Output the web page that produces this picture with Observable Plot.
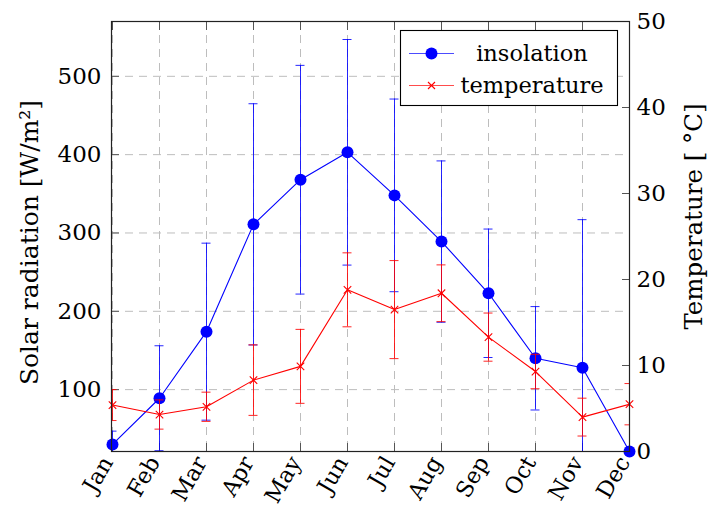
<!DOCTYPE html>
<html><head><meta charset="utf-8">
<script src="https://cdn.jsdelivr.net/npm/d3@7"></script>
<script src="https://cdn.jsdelivr.net/npm/@observablehq/plot@0.6"></script>
<style>
body{margin:0;background:#fff;}
#wrap{position:relative;width:708px;height:507px;}
#wrap svg{display:block;}
</style></head><body><div id="wrap"></div>
<script>
const months = ["Jan","Feb","Mar","Apr","May","Jun","Jul","Aug","Sep","Oct","Nov","Dec"];
const insolation = [30, 89, 174, 311, 368, 403, 348, 289, 223, 140, 128, 21];
const insolationErr = [17, 67, 113, 154, 146, 144, 123, 103, 82, 66, 189, 0];
const temperature = [5.4, 4.3, 5.2, 8.3, 9.9, 18.8, 16.5, 18.4, 13.3, 9.3, 4.0, 5.5];
const temperatureErr = [1.8, 1.7, 1.7, 4.1, 4.3, 4.3, 5.7, 3.3, 2.8, 2.0, 2.2, 2.4];
const leftTicks = [100, 200, 300, 400, 500];
const rightTicks = [0, 10, 20, 30, 40, 50];
const leftDomain = [21, 570];
const rightDomain = [0, 50];
const seriesNames = ["insolation", "temperature"];
const leftTitle = "Solar radiation [W/m²]";
const rightTitle = "Temperature [ °C]";

const k = (leftDomain[1] - leftDomain[0]) / (rightDomain[1] - rightDomain[0]);
const toLeft = t => leftDomain[0] + (t - rightDomain[0]) * k;
const fromLeft = v => rightDomain[0] + (v - leftDomain[0]) / k;

const data = months.map((m, i) => ({
  month: m,
  ins: insolation[i],
  insLo: insolation[i] - insolationErr[i],
  insHi: insolation[i] + insolationErr[i],
  insErr: insolationErr[i],
  tmp: toLeft(temperature[i]),
  tmpLo: toLeft(temperature[i] - temperatureErr[i]),
  tmpHi: toLeft(temperature[i] + temperatureErr[i])
}));
const withErr = data.filter(d => d.insErr > 0);

const FONT = "DejaVu Serif";
const BLUE = "#0000ff", RED = "#ff0000";
const gridStyle = {stroke: "#bdbdbd", strokeOpacity: 1, strokeDasharray: "8,6", strokeWidth: 1};
const cap = (arr, yKey, color) => Plot.ruleY(arr, {x1: "month", x2: "month", y: yKey, stroke: color, strokeOpacity: 0.85, insetLeft: -4.5, insetRight: -4.5, clip: true});

const chart = Plot.plot({
  width: 708, height: 507,
  marginLeft: 111, marginRight: 79, marginTop: 21, marginBottom: 56,
  style: {fontFamily: FONT, fontSize: "23px", background: "#fff", color: "#000", overflow: "visible"},
  x: {type: "point", domain: months, padding: 0, axis: null, label: null},
  y: {domain: leftDomain, axis: null, label: null},
  marks: [
    Plot.gridX(months, gridStyle),
    Plot.gridY(leftTicks, gridStyle),
    // axes: labels
    Plot.axisX(months, {anchor: "bottom", tickSize: 0, tickPadding: 7, dx: -5, tickRotate: -60, fontSize: 22.5}),
    Plot.axisY(leftTicks, {anchor: "left", tickSize: 0, tickPadding: 10, fontSize: 23}),
    Plot.axisY(rightTicks.map(toLeft), {anchor: "right", tickSize: 0, tickPadding: 7, fontSize: 23,
      tickFormat: v => String(Math.round(fromLeft(v)))}),
    // inward ticks
    Plot.axisX(months, {anchor: "bottom", tickSize: -8, tickFormat: () => "", stroke: "#555"}),
    Plot.axisX(months, {anchor: "top", tickSize: -8, tickFormat: () => "", stroke: "#555"}),
    Plot.axisY(leftTicks, {anchor: "left", tickSize: -8, tickFormat: () => "", stroke: "#555"}),
    Plot.axisY(rightTicks.map(toLeft), {anchor: "right", tickSize: -8, tickFormat: () => "", stroke: "#555"}),
    // insolation
    Plot.ruleX(withErr, {x: "month", y1: "insLo", y2: "insHi", stroke: BLUE, strokeOpacity: 0.85, clip: true}),
    cap(withErr, "insHi", BLUE),
    cap(withErr, "insLo", BLUE),
    Plot.line(data, {x: "month", y: "ins", stroke: BLUE, strokeWidth: 1.1, clip: true}),
    Plot.dot(data, {x: "month", y: "ins", r: 6, fill: BLUE}),
    // temperature
    Plot.ruleX(data, {x: "month", y1: "tmpLo", y2: "tmpHi", stroke: RED, strokeOpacity: 0.85, clip: true}),
    cap(data, "tmpHi", RED),
    cap(data, "tmpLo", RED),
    Plot.line(data, {x: "month", y: "tmp", stroke: RED, strokeWidth: 1.1, clip: true}),
    Plot.dot(data, {x: "month", y: "tmp", r: 3.5, symbol: "times", stroke: RED, strokeWidth: 1.1}),
    Plot.frame({stroke: "#222", strokeWidth: 1.2}),
    // axis titles
    Plot.text([leftTitle], {frameAnchor: "left", rotate: -90, dx: -82, dy: 6, fontSize: 25, textAnchor: "middle", lineAnchor: "middle"}),
    Plot.text([rightTitle], {frameAnchor: "right", rotate: -90, dx: 65, dy: -20, fontSize: 24.5, textAnchor: "middle", lineAnchor: "middle"})
  ]
});

const wrap = document.getElementById("wrap");
wrap.appendChild(chart);

// legend overlay
const leg = d3.create("svg").attr("width", 708).attr("height", 507)
  .style("position", "absolute").style("left", "0px").style("top", "0px")
  .style("font-family", FONT).style("font-size", "22.5px");
leg.append("rect").attr("x", 400.5).attr("y", 30.5).attr("width", 217).attr("height", 75)
  .attr("fill", "#fff").attr("stroke", "#000").attr("stroke-width", 1.1);
const rows = [{y: 53.5, color: BLUE, sym: "dot"}, {y: 85.5, color: RED, sym: "x"}];
rows.forEach((r, i) => {
  leg.append("line").attr("x1", 409).attr("x2", 454).attr("y1", r.y).attr("y2", r.y)
    .attr("stroke", r.color).attr("stroke-width", 1.1).attr("stroke-opacity", 0.7);
  if (r.sym === "dot") {
    leg.append("circle").attr("cx", 431.5).attr("cy", r.y).attr("r", 6).attr("fill", r.color);
  } else {
    leg.append("path").attr("d", `M${428},${r.y-3.5}L${435},${r.y+3.5}M${428},${r.y+3.5}L${435},${r.y-3.5}`)
      .attr("stroke", r.color).attr("stroke-width", 1.1);
  }
  leg.append("text").attr("x", 532).attr("y", r.y).attr("dy", "0.32em")
    .attr("text-anchor", "middle").text(seriesNames[i]);
});
wrap.appendChild(leg.node());
</script></body></html>
